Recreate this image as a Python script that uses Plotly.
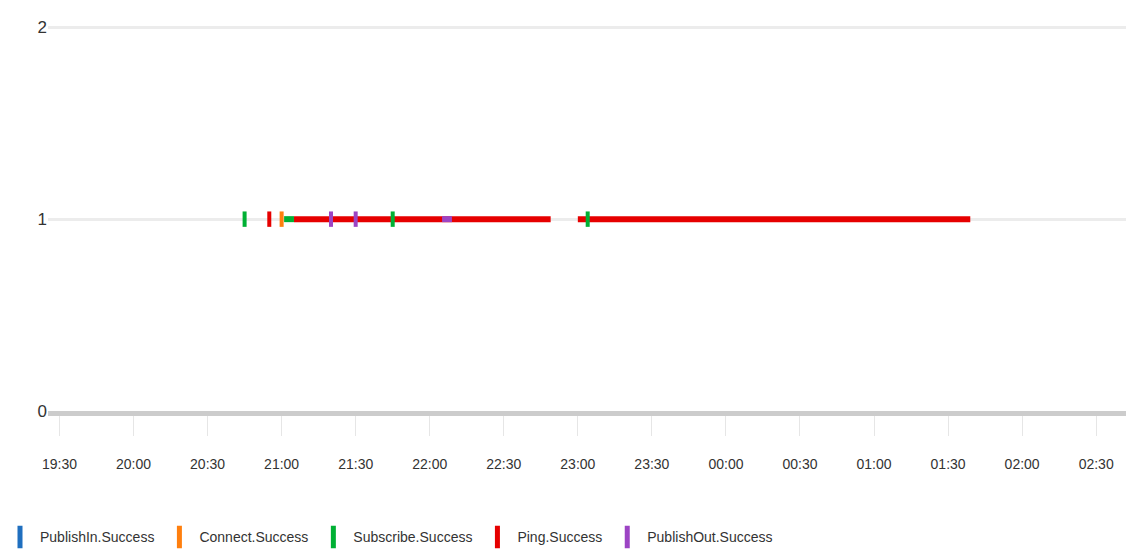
import plotly.graph_objects as go

DAY1 = "2024-05-01 "
DAY2 = "2024-05-02 "

series_names = ["PublishIn.Success", "Connect.Success", "Subscribe.Success", "Ping.Success", "PublishOut.Success"]
series_colors = ["#1f6fbf", "#ff7f0e", "#00b034", "#e60000", "#9c44c4"]

# Continuous segments (start, end) at value 1
ping_segments = [(DAY1 + "21:05", DAY1 + "22:49"), (DAY1 + "23:00", DAY2 + "01:39")]
subscribe_segments = [(DAY1 + "21:01", DAY1 + "21:05")]
publishout_segments = [(DAY1 + "22:05", DAY1 + "22:09")]

# Isolated single samples at value 1
subscribe_points = [DAY1 + "20:45", DAY1 + "21:45", DAY1 + "23:04"]
ping_points = [DAY1 + "20:55"]
connect_points = [DAY1 + "21:00"]
publishout_points = [DAY1 + "21:20", DAY1 + "21:30"]
publishin_points = []

value = 1

x_range = [DAY1 + "19:25:21", DAY2 + "02:42:05"]
y_ticks = [0, 1, 2]

FONT = "Liberation Sans Narrow, Arial Narrow, Liberation Sans, Arial, sans-serif"

fig = go.Figure()

def seg_xy(segs):
    xs, ys = [], []
    for s, e in segs:
        xs += [s, e, None]
        ys += [value, value, None]
    return xs, ys

def add_segments(segs, color):
    xs, ys = seg_xy(segs)
    fig.add_trace(go.Scatter(x=xs, y=ys, mode="lines", showlegend=False, hoverinfo="skip",
                             line=dict(color=color, width=6)))

def add_points(pts, color):
    fig.add_trace(go.Scatter(x=pts, y=[value] * len(pts), mode="markers", showlegend=False,
                             hoverinfo="skip",
                             marker=dict(symbol="line-ns-open", size=11, color=color,
                                         line=dict(color=color, width=4))))

c = dict(zip(series_names, series_colors))
add_segments(ping_segments, c["Ping.Success"])
add_points(ping_points, c["Ping.Success"])
add_segments(subscribe_segments, c["Subscribe.Success"])
add_points(subscribe_points, c["Subscribe.Success"])
add_points(connect_points, c["Connect.Success"])
add_segments(publishout_segments, c["PublishOut.Success"])
add_points(publishout_points, c["PublishOut.Success"])
add_points(publishin_points, c["PublishIn.Success"])

for name, col in zip(series_names, series_colors):
    fig.add_trace(go.Scatter(x=[None], y=[None], mode="markers", name=name,
                             marker=dict(symbol="line-ns-open", size=16, color=col,
                                         line=dict(color=col, width=5))))

fig.update_layout(
    width=1126, height=554,
    margin=dict(l=48, r=0, t=25, b=143),
    plot_bgcolor="white", paper_bgcolor="white",
    font=dict(family=FONT, size=14, color="#333333"),
    showlegend=True,
    legend=dict(orientation="h", xref="container", yref="container", x=-0.02, y=0.03,
                xanchor="left", yanchor="middle", font=dict(size=14, color="#333333"),
                itemclick=False, tracegroupgap=0),
    xaxis=dict(type="date", range=x_range, tickformat="%H:%M", dtick=1800000,
               tick0=DAY1 + "19:30", showgrid=False, zeroline=False,
               showline=True, linecolor="#cccccc", linewidth=5,
               ticks="outside", ticklen=20, tickcolor="#e6e6e6", tickwidth=1,
               ticklabelstandoff=16, tickfont=dict(size=14), automargin=False),
    yaxis=dict(range=[0, 2.012], tickvals=y_ticks, showgrid=True, gridcolor="#ececec",
               gridwidth=2.5, zeroline=False, showline=False, ticks="",
               tickfont=dict(size=17), fixedrange=True, automargin=False),
)

fig.write_html("out.html", config={"displayModeBar": False},
               post_script="document.body.style.margin='0px';")
